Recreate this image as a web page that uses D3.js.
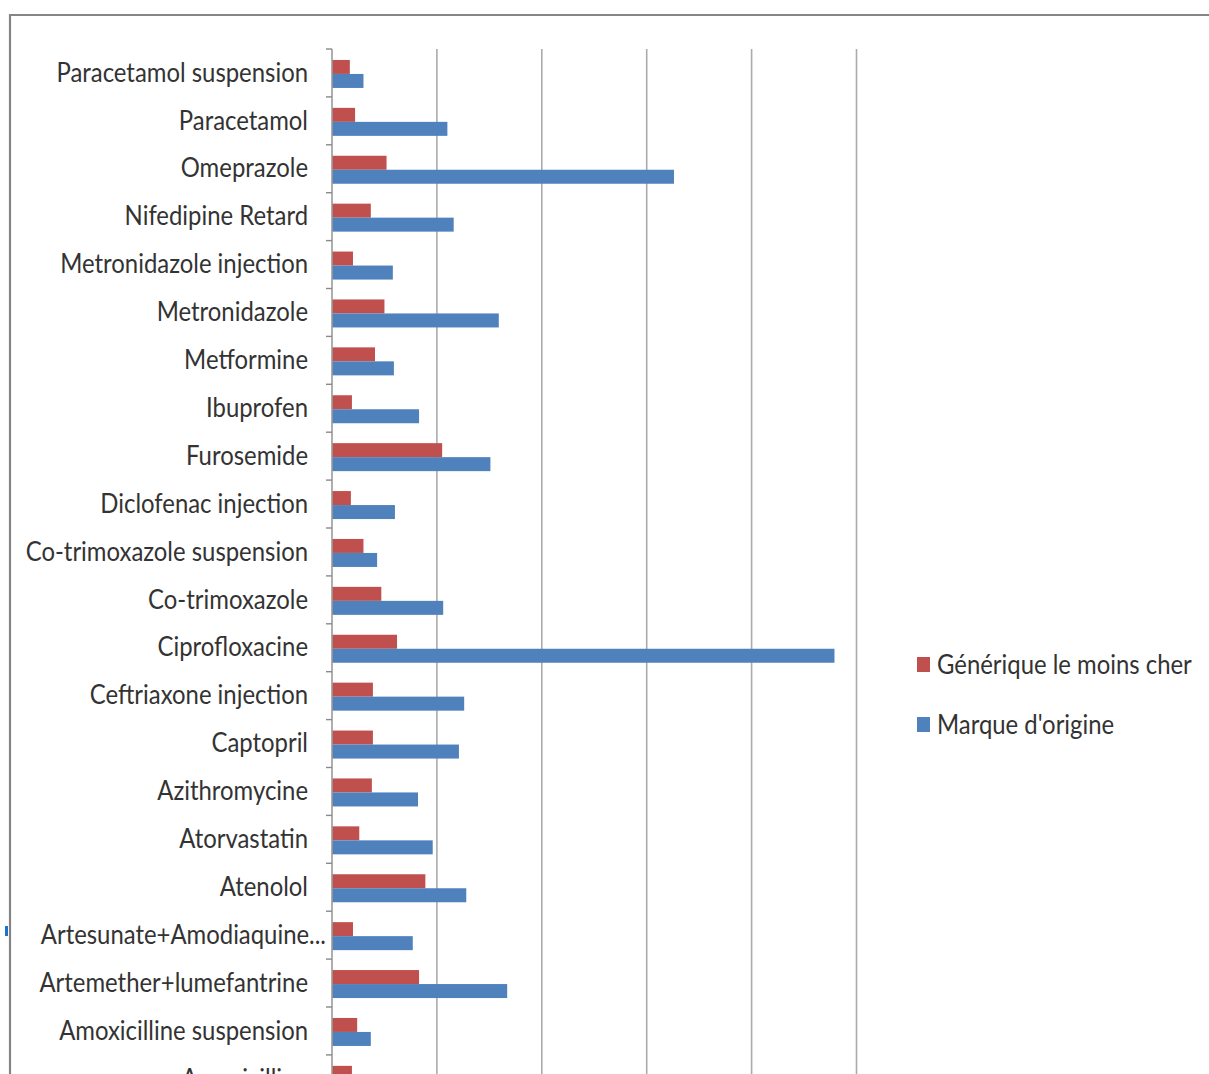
<!DOCTYPE html>
<html>
<head>
<meta charset="utf-8">
<script src="https://cdn.jsdelivr.net/npm/d3@7"></script>
<style>
  html, body { margin: 0; padding: 0; background: #fff; overflow: hidden; }
  svg { display: block; }
  text { font-family: Lato, "Open Sans", sans-serif; fill: #333; }
</style>
</head>
<body>
<svg id="chart" width="1209" height="1074"></svg>
<script>
// Médicaments comparés (ordre d'affichage, de haut en bas)
const categories = [
  "Paracetamol suspension", "Paracetamol", "Omeprazole", "Nifedipine Retard",
  "Metronidazole injection", "Metronidazole", "Metformine", "Ibuprofen",
  "Furosemide", "Diclofenac injection", "Co-trimoxazole suspension",
  "Co-trimoxazole", "Ciprofloxacine", "Ceftriaxone injection", "Captopril",
  "Azithromycine", "Atorvastatin", "Atenolol", "Artesunate+Amodiaquine...",
  "Artemether+lumefantrine", "Amoxicilline suspension", "Amoxicilline"
];

// Séries
const seriesNames = ["Générique le moins cher", "Marque d'origine"];
const generique = [0.17, 0.22, 0.52, 0.37, 0.20, 0.50, 0.41, 0.19, 1.05, 0.18, 0.30,
                   0.47, 0.62, 0.39, 0.39, 0.38, 0.26, 0.89, 0.20, 0.83, 0.24, 0.19];
const marque    = [0.30, 1.10, 3.26, 1.16, 0.58, 1.59, 0.59, 0.83, 1.51, 0.60, 0.43,
                   1.06, 4.79, 1.26, 1.21, 0.82, 0.96, 1.28, 0.77, 1.67, 0.37, 0.62];
const xTicks = [0, 1, 2, 3, 4, 5];

const colors = ["#C0504D", "#4F81BD"];

const W = 1209, H = 1074;
const svg = d3.select("#chart");

// Frame of the chart area
svg.append("rect").attr("width", W).attr("height", H).attr("fill", "#fff");
svg.append("line").attr("x1", 9).attr("x2", W).attr("y1", 15).attr("y2", 15)
  .attr("stroke", "#858585").attr("stroke-width", 2.2);
svg.append("line").attr("x1", 10).attr("x2", 10).attr("y1", 14).attr("y2", H)
  .attr("stroke", "#858585").attr("stroke-width", 2.2);
svg.append("rect").attr("x", 5).attr("y", 926).attr("width", 3).attr("height", 10)
  .attr("fill", "#1f72d4");

// Scales
const bandStep = 47.9;
const yTop = 49;
const x = d3.scaleLinear().domain([0, 5]).range([332, 856.5]);
const y0 = d3.scaleBand().domain(categories)
  .range([yTop, yTop + bandStep * categories.length]).padding(0);
const y1 = d3.scaleBand().domain(seriesNames).range([0, 28]).padding(0);
const inner = (y0.bandwidth() - 28) / 2 + 1;
const yBottom = yTop + bandStep * categories.length;

// Vertical gridlines
svg.append("g").selectAll("line").data(xTicks.slice(1)).join("line")
  .attr("x1", d => x(d)).attr("x2", d => x(d))
  .attr("y1", yTop).attr("y2", yBottom)
  .attr("stroke", "#ababab").attr("stroke-width", 1.6);

// Bars
const rows = categories.map((c, i) => ({ c, vals: [generique[i], marque[i]] }));
const g = svg.append("g");
rows.forEach(r => {
  g.append("g").selectAll("rect").data(seriesNames.map((s, k) => ({ s, v: r.vals[k], k }))).join("rect")
    .attr("x", x(0))
    .attr("y", d => y0(r.c) + inner + y1(d.s))
    .attr("width", d => x(d.v) - x(0))
    .attr("height", y1.bandwidth())
    .attr("fill", d => colors[d.k]);
});

// Category axis (condensed labels)
const sx = 0.885;
const axis = d3.axisLeft(y0).tickSize(0).tickPadding(24);
const ag = svg.append("g").attr("transform", `translate(${x(0)},0)`).call(axis);
ag.select(".domain").remove();
ag.selectAll("text")
  .attr("font-size", 27)
  .attr("fill", "#333")
  .attr("x", d => (d.endsWith("...") ? -6 : -24) / sx)
  .attr("transform", `scale(${sx},1)`)
  .style("font-family", "Lato, sans-serif");
ag.selectAll(".tick").attr("transform", d => `translate(0,${y0(d) + y0.bandwidth() / 2})`);

// Axis line and boundary ticks
svg.append("line").attr("x1", x(0)).attr("x2", x(0)).attr("y1", yTop).attr("y2", yBottom)
  .attr("stroke", "#9a9a9a").attr("stroke-width", 1.6);
svg.append("g").selectAll("line").data(categories.map(c => y0(c)).concat([yBottom])).join("line")
  .attr("x1", x(0) - 6).attr("x2", x(0)).attr("y1", d => d).attr("y2", d => d)
  .attr("stroke", "#8a8a8a").attr("stroke-width", 1.4);

// Legend
const lg = svg.append("g").attr("transform", "translate(917,656)");
seriesNames.forEach((s, k) => {
  const row = lg.append("g").attr("transform", `translate(0,${k * 60})`);
  row.append("rect").attr("width", 13).attr("height", 15).attr("y", 1).attr("fill", colors[k]);
  row.append("text").attr("x", 20 / sx).attr("y", 9).attr("dy", "0.35em")
    .attr("transform", `scale(${sx},1)`)
    .attr("font-size", 27).text(s);
});
</script>
</body>
</html>
